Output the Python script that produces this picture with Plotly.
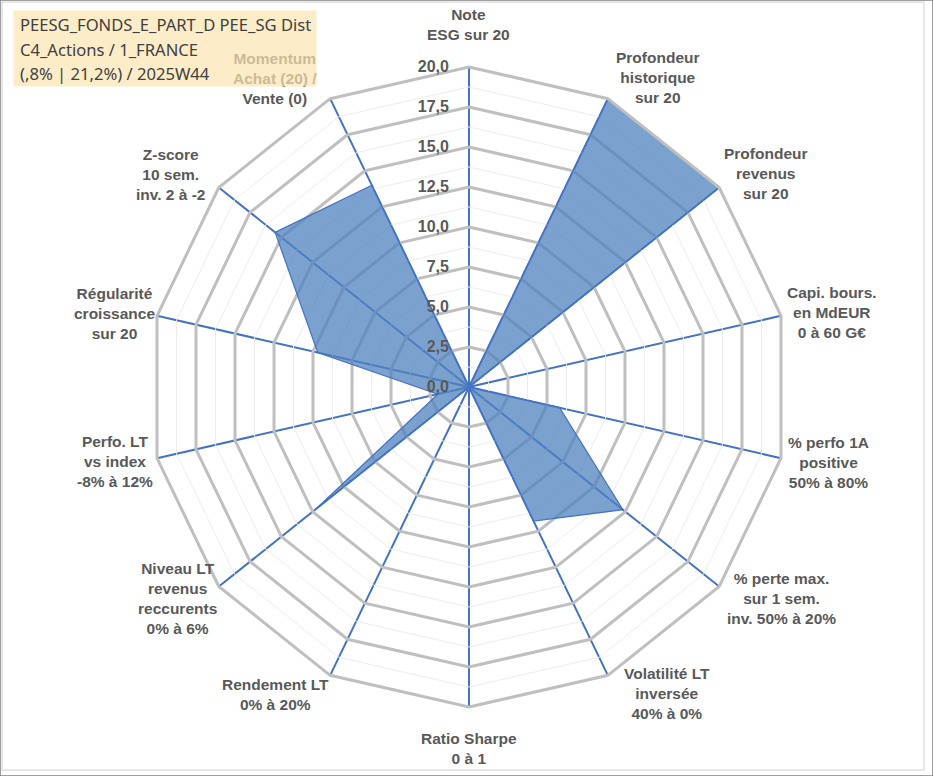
import plotly.graph_objects as go

categories = [
    "Note<br>ESG sur 20",
    "Profondeur<br>historique<br>sur 20",
    "Profondeur<br>revenus<br>sur 20",
    "Capi. bours.<br>en MdEUR<br>0 à 60 G€",
    "% perfo 1A<br>positive<br>50% à 80%",
    "% perte max.<br>sur 1 sem.<br>inv. 50% à 20%",
    "Volatilité LT<br>inversée<br>40% à 0%",
    "Ratio Sharpe<br>0 à 1",
    "Rendement LT<br>0% à 20%",
    "Niveau LT<br>revenus<br>reccurents<br>0% à 6%",
    "Perfo. LT<br>vs index<br>-8% à 12%",
    "Régularité<br>croissance<br>sur 20",
    "Z-score<br>10 sem.<br>inv. 2 à -2",
    "Momentum<br>Achat (20) /<br>Vente (0)",
]
values = [0, 20, 20, 0, 5.8, 12.3, 9.3, 0, 0, 12.3, 2, 9.7, 15.5, 14]

r_max = 20
major_step = 2.5
minor_levels = [1.25, 3.75, 6.25, 8.75, 11.25, 13.75, 16.25, 18.75]

title_lines = [
    "PEESG_FONDS_E_PART_D PEE_SG Dist",
    "C4_Actions / 1_FRANCE",
    "(,8% | 21,2%) / 2025W44",
]

# layout (pixels): figure size, polar centre / radius, label block centres
W, H = 933, 776
cx, cy, R = 469.0, 387.0, 320.0
label_centers = [
    (468, 24), (658, 78), (766, 173), (832, 312), (828, 462), (781, 598),
    (667, 693), (469, 748), (275, 694), (177, 598), (115, 461), (114, 313),
    (171, 175), (275, 79),
]
title_line_y = [24, 50, 73]


def px(x):
    return x / W


def py(y):
    return 1 - y / H


fig = go.Figure()

theta_closed = categories + [categories[0]]
for lv in minor_levels:
    fig.add_trace(go.Scatterpolar(
        r=[lv] * len(theta_closed), theta=theta_closed, mode="lines",
        line=dict(color="#ECECEC", width=1), hoverinfo="skip", showlegend=False,
    ))

fig.add_trace(go.Scatterpolar(
    r=values + [values[0]], theta=theta_closed, mode="lines",
    fill="toself", fillcolor="rgba(79,129,189,0.75)",
    line=dict(color="#4472C4", width=1.2), showlegend=False,
))

label_font = dict(family="Liberation Sans", size=15.5, color="#595959", weight="bold")

fig.update_layout(
    width=W, height=H,
    margin=dict(l=0, r=0, t=0, b=0),
    paper_bgcolor="white",
    separators=", ",
    polar=dict(
        domain=dict(x=[px(cx - R), px(cx + R)], y=[py(cy + R), py(cy - R)]),
        gridshape="linear",
        bgcolor="white",
        radialaxis=dict(
            range=[0, r_max], dtick=major_step, tick0=0, tickformat=".1f",
            showline=False, ticks="outside", ticklen=14, tickcolor="rgba(0,0,0,0)",
            angle=90, side="counterclockwise", tickangle=90,
            gridcolor="#BFBFBF", gridwidth=3,
            tickfont=dict(family="Liberation Sans", size=16, color="#595959", weight="bold"),
        ),
        angularaxis=dict(
            rotation=90, direction="clockwise",
            showline=True, linecolor="#BFBFBF", linewidth=3,
            gridcolor="#4472C4", gridwidth=1.5, ticks="",
            showticklabels=False,
        ),
    ),
    font=dict(family="Liberation Sans"),
)

# category labels (text taken from the categories list)
for cat, (lx, ly) in zip(categories, label_centers):
    fig.add_annotation(
        xref="paper", yref="paper", x=px(lx), y=py(ly),
        xanchor="center", yanchor="middle", align="center",
        text=cat, showarrow=False, font=label_font,
    )

# semi-transparent title box (drawn over the labels)
fig.add_annotation(
    xref="paper", yref="paper", x=px(13), y=py(10),
    xanchor="left", yanchor="top", text=" ", showarrow=False,
    bgcolor="rgba(252,228,176,0.7)", width=302, height=75, borderpad=0,
)
for line, ly in zip(title_lines, title_line_y):
    fig.add_annotation(
        xref="paper", yref="paper", x=px(18), y=py(ly),
        xanchor="left", yanchor="middle", align="left",
        text=line, showarrow=False,
        font=dict(family="Noto Sans", size=16.6, color="#404040"),
    )

fig.add_shape(type="rect", xref="paper", yref="paper", x0=px(2), y0=py(770), x1=px(924), y1=py(2),
              line=dict(color="#D0D0D0", width=1))
fig.add_shape(type="rect", xref="paper", yref="paper", x0=0, y0=0, x1=1, y1=1,
              line=dict(color="#808080", width=1.5))

fig.write_html(
    "out.html",
    config={"displayModeBar": False},
    post_script="document.body.style.margin='0';document.body.style.overflow='hidden';",
)
